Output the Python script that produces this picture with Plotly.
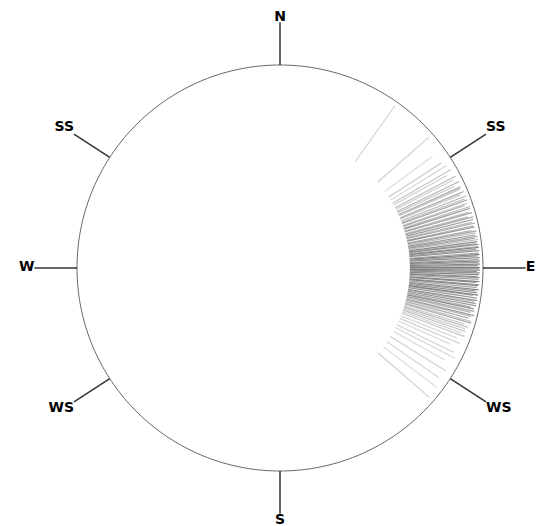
import plotly.graph_objects as go

# Compass labels (bearing in degrees, clockwise from north)
compass_vals = [0, 57, 90, 123, 180, 237, 270, 303]
compass_text = ["N", "SS", "E", "WS", "S", "WS", "W", "SS"]
compass_pos = ["middle center", "top right", "middle right", "bottom right",
               "bottom center", "bottom left", "middle left", "top left"]

# Radial strokes: bearing (deg), outer radius, opacity
bearings = [35.3, 48.7, 53.8, 56.9, 58.4, 60.1, 61.0, 62.4, 63.1, 64.2,
            64.9, 65.8, 66.3, 67.4, 67.9, 68.8, 69.5, 70.0, 70.9, 71.3,
            72.1, 72.6, 73.5, 73.9, 74.8, 75.2, 75.9, 76.6, 77.0, 77.7,
            78.1, 78.9, 79.3, 79.8, 80.4, 80.9, 81.3, 81.8, 82.4, 82.9,
            83.2, 83.8, 84.1, 84.6, 85.0, 85.7, 86.1, 86.5, 87.0, 87.6,
            88.0, 88.4, 88.9, 89.3, 89.8, 90.1, 90.6, 91.0, 91.4, 91.9,
            92.5, 92.8, 93.3, 93.9, 94.2, 94.8, 95.1, 95.7, 96.3, 96.7,
            97.2, 97.8, 98.1, 98.7, 99.4, 99.8, 100.3, 100.9, 101.5, 101.9,
            102.6, 103.1, 103.8, 104.2, 104.9, 105.6, 106.1, 106.9, 107.5, 108.2,
            108.9, 109.7, 110.4, 111.6, 112.8, 114.1, 115.9, 117.3, 119.2, 121.8,
            124.6, 127.3, 130.9]
outer_r = [0.98, 0.975, 0.93, 0.95, 0.96, 0.97, 0.94, 0.975, 0.96, 0.98,
           0.95, 0.975, 0.97, 0.98, 0.96, 0.985, 0.97, 0.98, 0.975, 0.96,
           0.985, 0.98, 0.97, 0.985, 0.96, 0.985, 0.98, 0.97, 0.985, 0.975,
           0.98, 0.96, 0.985, 0.98, 0.975, 0.985, 0.97, 0.985, 0.98, 0.975,
           0.985, 0.98, 0.985, 0.97, 0.985, 0.98, 0.985, 0.975, 0.985, 0.98,
           0.985, 0.98, 0.985, 0.975, 0.985, 0.98, 0.985, 0.97, 0.985, 0.98,
           0.975, 0.985, 0.98, 0.985, 0.97, 0.985, 0.98, 0.975, 0.985, 0.97,
           0.98, 0.985, 0.96, 0.98, 0.985, 0.97, 0.98, 0.985, 0.96, 0.975,
           0.98, 0.965, 0.985, 0.97, 0.96, 0.975, 0.98, 0.95, 0.97, 0.96,
           0.965, 0.95, 0.97, 0.94, 0.96, 0.92, 0.95, 0.97, 0.93, 0.96,
           0.95, 0.97, 0.975]
opacity = [0.3, 0.35, 0.25, 0.4, 0.3, 0.45, 0.35, 0.5, 0.35, 0.55,
           0.4, 0.6, 0.45, 0.65, 0.4, 0.55, 0.5, 0.7, 0.45, 0.6,
           0.55, 0.75, 0.5, 0.65, 0.55, 0.6, 0.75, 0.5, 0.65, 0.55,
           0.8, 0.6, 0.65, 0.55, 0.75, 0.6, 0.7, 0.55, 0.85, 0.65,
           0.75, 0.6, 0.9, 0.7, 0.8, 0.65, 0.9, 0.75, 0.85, 0.7,
           0.9, 0.75, 0.9, 0.8, 0.9, 0.75, 0.9, 0.85, 0.8, 0.9,
           0.75, 0.85, 0.7, 0.9, 0.8, 0.75, 0.9, 0.65, 0.85, 0.7,
           0.8, 0.9, 0.65, 0.75, 0.85, 0.6, 0.8, 0.7, 0.55, 0.85,
           0.65, 0.55, 0.75, 0.5, 0.6, 0.45, 0.65, 0.4, 0.5, 0.35,
           0.45, 0.35, 0.4, 0.3, 0.35, 0.3, 0.35, 0.3, 0.25, 0.35,
           0.3, 0.25, 0.35]
inner_r = 0.64

# Geometry (layout pixels)
W, H = 550, 526
cx, cy, R = 272, 260, 203      # circle centre and radius
r_max = 1.27                   # radial range beyond the circle
tick_end = 1.21
top_label_r = 1.235            # north label sits just past its tick
half = R * r_max

fig = go.Figure()

# outer circle
circ_theta = list(range(0, 361))
fig.add_trace(go.Scatterpolar(
    r=[1] * len(circ_theta), theta=circ_theta, mode="lines",
    line=dict(color="#666666", width=1), hoverinfo="skip"))

# radial strokes
for b, ro, op in zip(bearings, outer_r, opacity):
    fig.add_trace(go.Scatterpolar(
        r=[inner_r, ro], theta=[b, b], mode="lines",
        line=dict(color="rgba(120,120,120,%.2f)" % op, width=1.2),
        hoverinfo="skip"))

# compass ticks
for a in compass_vals:
    fig.add_trace(go.Scatterpolar(
        r=[1, tick_end], theta=[a, a], mode="lines",
        line=dict(color="#333333", width=1.5), hoverinfo="skip"))

# compass labels
label_r = [top_label_r if a == 0 else tick_end for a in compass_vals]
fig.add_trace(go.Scatterpolar(
    r=label_r, theta=compass_vals, mode="text",
    text=compass_text, textposition=compass_pos, cliponaxis=False,
    textfont=dict(family="DejaVu Sans", size=14, color="black", weight="bold"),
    hoverinfo="skip"))

fig.update_layout(
    width=W, height=H,
    margin=dict(l=0, r=0, t=0, b=0),
    paper_bgcolor="white",
    showlegend=False,
    polar=dict(
        domain=dict(x=[(cx - half) / W, (cx + half) / W],
                    y=[1 - (cy + half) / H, 1 - (cy - half) / H]),
        bgcolor="white",
        radialaxis=dict(visible=False, range=[0, r_max]),
        angularaxis=dict(rotation=90, direction="clockwise",
                         showticklabels=False, ticks="",
                         showgrid=False, showline=False),
    ),
)
fig.write_html("out.html")
